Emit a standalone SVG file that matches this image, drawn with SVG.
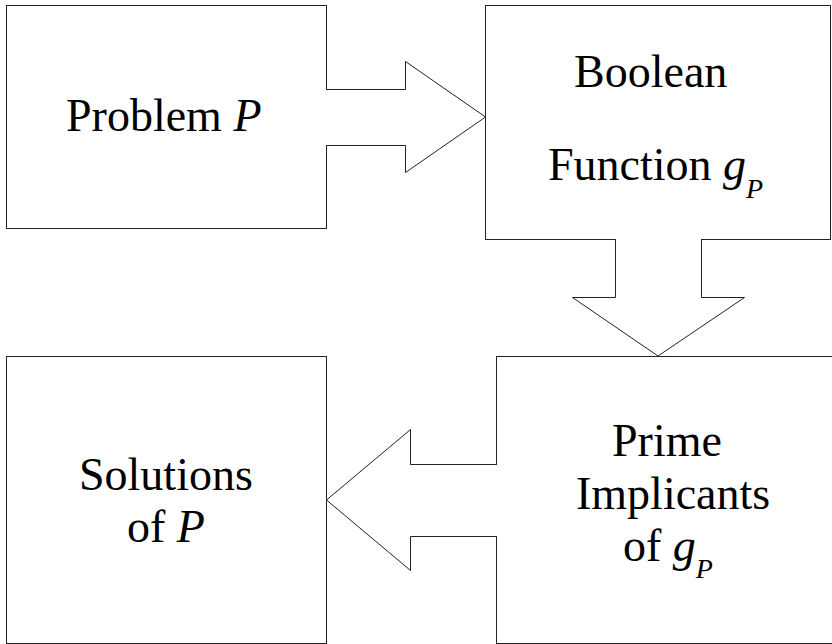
<svg xmlns="http://www.w3.org/2000/svg" width="832" height="644" viewBox="0 0 832 644">
  <style>
    .box { fill: #ffffff; stroke: #222222; stroke-width: 1; }
    .flow { fill: #ffffff; stroke: #222222; stroke-width: 1; stroke-linejoin: miter; }
    text { font-family: 'Liberation Serif', 'Times New Roman', serif; font-size: 40px; fill: #000000; }
    .it { font-style: italic; }
    .sub { font-style: italic; font-size: 24.3px; }
  </style>
  <rect width="832" height="644" fill="#ffffff"/>

  <!-- nodes; labels are set at 40px and scaled up to 46px -->
  <g id="node-problem">
    <rect class="box" x="6.5" y="5.5" width="320" height="223"/>
    <text transform="translate(66,131) scale(1.15)">Problem <tspan class="it">P</tspan></text>
  </g>
  <g id="node-boolean">
    <rect class="box" x="485.5" y="5.5" width="345" height="234"/>
    <text transform="translate(574,87) scale(1.15)">Boolean</text>
    <text transform="translate(548,180) scale(1.15)">Function <tspan class="it">g</tspan><tspan class="sub" dy="15.6">P</tspan></text>
  </g>
  <g id="node-prime">
    <rect class="box" x="496.5" y="356.5" width="360" height="287"/>
    <text transform="translate(612,456) scale(1.15)">Prime</text>
    <text transform="translate(576,509) scale(1.15)">Implicants</text>
    <text transform="translate(623,561) scale(1.15)">of <tspan class="it">g</tspan><tspan class="sub" dy="14.8">P</tspan></text>
  </g>
  <g id="node-solutions">
    <rect class="box" x="6.5" y="356.5" width="320" height="287"/>
    <text transform="translate(79,490) scale(1.15)">Solutions</text>
    <text transform="translate(127,542) scale(1.15)">of <tspan class="it">P</tspan></text>
  </g>

  <!-- connectors: open block arrows, back edge left unstroked -->
  <g id="connectors">
    <path class="flow" d="M326,89.5 H405.5 V61.5 L485.5,117 L405.5,172.5 V145.5 H326"/>
    <path class="flow" d="M615.5,239 V297.5 H572.5 L658,356 L744.5,297.5 H701.5 V239"/>
    <path class="flow" d="M497,464.5 H410.5 V429.5 L326.5,500 L410.5,570.5 V536.5 H497"/>
  </g>
</svg>
